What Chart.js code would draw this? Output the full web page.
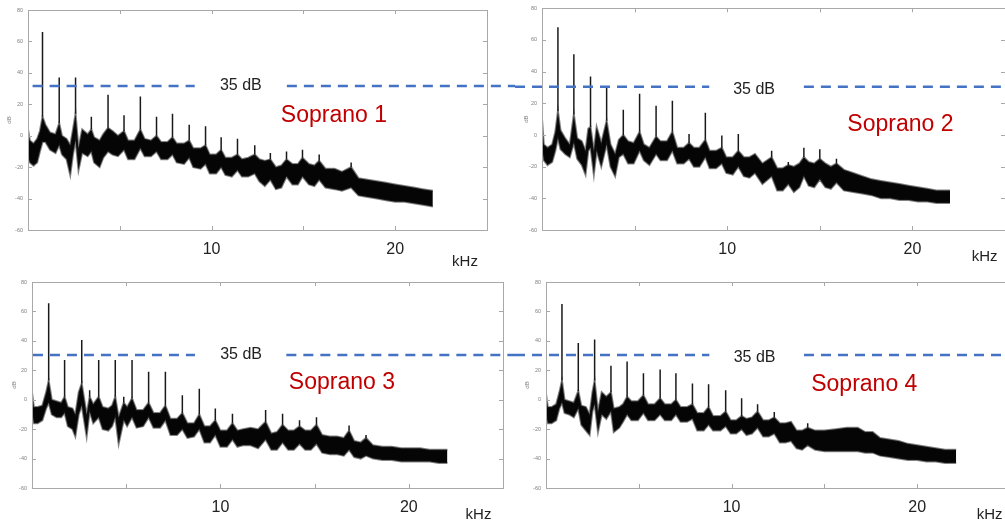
<!DOCTYPE html>
<html>
<head>
<meta charset="utf-8">
<script src="https://cdn.jsdelivr.net/npm/chart.js@4.4.1/dist/chart.umd.min.js"></script>
<style>
  html, body { margin: 0; padding: 0; background: #fff; overflow: hidden; }
  #page { position: relative; width: 1005px; height: 525px; overflow: hidden; }
  canvas { position: absolute; }
</style>
</head>
<body>
<div id="page"></div>
<script>
// --- Soprano 1: band envelope (top/bottom dB) and harmonic peaks
const s1Khz = [0, 0.1, 0.3, 0.5, 0.65, 0.79, 0.95, 1.2, 1.5, 1.7,
  1.85, 2.1, 2.3, 2.45, 2.59, 2.75, 2.95, 3.25, 3.45, 3.6,
  3.9, 4.1, 4.36, 4.6, 4.9, 5.23, 5.45, 5.8, 6.12, 6.35,
  6.7, 7.0, 7.25, 7.6, 7.87, 8.1, 8.5, 8.78, 9.0, 9.4,
  9.67, 9.9, 10.25, 10.52, 10.75, 11.1, 11.41, 11.65, 12.0, 12.35,
  12.6, 12.9, 13.2, 13.5, 13.8, 14.08, 14.4, 14.7, 14.95, 15.3,
  15.6, 15.86, 16.2, 16.7, 17.1, 17.6, 18.0, 18.5, 19.0, 19.5,
  20.0, 20.5, 21.0, 21.5, 22.05];
const s1Top = [4, -3, -5, -2, 3, 12, 7, 2, 1, 8,
  0, -2, -6, 4, 14, -8, 4, 1, 4, -1,
  -3, 1, 5, 3, 0, 3, -3, -3, 4, -2,
  -3, 0, -4, -4, -1, -5, -5, -3, -8, -8,
  -6, -12, -12, -9, -14, -14, -12, -15, -14, -12,
  -15, -16, -15, -20, -19, -15, -18, -18, -14, -18,
  -19, -16, -21, -21, -23, -20, -27, -28, -29, -30,
  -31, -32, -33, -34, -35];
const s1Bottom = [-13, -17, -19, -17, -10, -4, -4, -9, -11, -6,
  -12, -15, -25, -12, -3, -22, -11, -13, -10, -17,
  -20, -14, -10, -12, -13, -9, -15, -15, -8, -13,
  -13, -10, -15, -15, -12, -17, -18, -14, -20, -21,
  -18, -24, -24, -20, -25, -26, -22, -26, -26, -24,
  -29, -32, -28, -34, -33, -26, -31, -31, -26, -31,
  -32, -28, -33, -34, -35, -33, -38, -39, -40, -41,
  -42, -42, -43, -44, -45];
const s1PeakKhz = [0.79, 1.7, 2.59, 3.45, 4.36, 5.23, 6.12, 7.0, 7.87, 8.78, 9.67, 10.52, 11.41, 12.35, 13.2, 14.08, 14.95, 15.86, 17.6];
const s1PeakDb = [66, 37, 37, 12, 26, 13, 25, 12, 14, 7, 6, -1, -2, -6, -11, -10, -9, -12, -17];

// --- Soprano 2
const s2Khz = [0, 0.1, 0.3, 0.55, 0.72, 0.86, 1.0, 1.25, 1.5, 1.72,
  1.9, 2.15, 2.35, 2.5, 2.62, 2.8, 2.95, 3.2, 3.49, 3.7,
  3.95, 4.15, 4.39, 4.65, 4.95, 5.27, 5.5, 5.8, 6.16, 6.4,
  6.75, 7.04, 7.3, 7.65, 7.94, 8.2, 8.5, 8.82, 9.05, 9.4,
  9.71, 9.95, 10.3, 10.6, 10.9, 11.2, 11.5, 11.9, 12.4, 12.7,
  13.0, 13.3, 13.6, 13.9, 14.14, 14.4, 14.7, 15.0, 15.3, 15.6,
  15.9, 16.3, 16.8, 17.3, 17.8, 18.3, 18.8, 19.3, 19.8, 20.3,
  20.8, 21.3, 22.03];
const s2Top = [10, -6, -8, -6, 2, 15, 3, -2, -6, 13,
  -2, -4, -10, 4, 5, -10, 5, -5, 9, -6,
  -12, -3, 0, -4, -5, 2, -6, -8, -1, -4,
  -4, 2, -8, -8, -5, -8, -8, -3, -10, -10,
  -8, -14, -14, -10, -14, -14, -12, -18, -14, -21,
  -21, -19, -20, -18, -14, -17, -18, -15, -18, -20,
  -18, -22, -24, -26, -28, -29, -30, -31, -32, -33,
  -34, -35, -35];
const s2Bottom = [-8, -16, -19, -17, -10, -2, -9, -12, -14, -5,
  -15, -19, -25, -10, -8, -25, -10, -20, -6, -20,
  -26, -14, -12, -18, -18, -10, -16, -19, -12, -16,
  -16, -10, -18, -18, -15, -20, -20, -14, -21, -21,
  -18, -24, -25, -20, -26, -27, -24, -31, -26, -35,
  -35, -31, -36, -33, -26, -32, -33, -28, -33, -34,
  -30, -35, -36, -37, -38, -40, -40, -41, -41, -42,
  -42, -43, -43];
const s2PeakKhz = [0.86, 1.72, 2.62, 3.49, 4.39, 5.27, 6.16, 7.04, 7.94, 8.82, 9.71, 10.6, 12.4, 13.3, 14.14, 15.0, 15.9];
const s2PeakDb = [68, 51, 37, 31, 16, 26, 18.5, 21.6, 0.6, 14, -0.4, 0.6, -10, -17, -8, -9, -15];

// --- Soprano 3
const s3Khz = [0, 0.1, 0.3, 0.55, 0.75, 0.885, 1.05, 1.3, 1.55, 1.73,
  1.9, 2.15, 2.3, 2.48, 2.64, 2.9, 3.06, 3.25, 3.54, 3.75,
  4.05, 4.25, 4.42, 4.6, 4.87, 5.05, 5.31, 5.55, 5.9, 6.19,
  6.45, 6.8, 7.08, 7.35, 7.7, 7.98, 8.25, 8.6, 8.88, 9.15,
  9.45, 9.73, 10.0, 10.35, 10.64, 10.9, 11.2, 11.6, 12.0, 12.4,
  12.7, 13.0, 13.3, 13.6, 13.9, 14.2, 14.5, 14.8, 15.1,
  15.4, 15.8, 16.2, 16.55, 16.83, 17.1, 17.45, 17.73, 18.1, 18.6,
  19.1, 19.6, 20.1, 20.6, 21.1, 21.6, 22.05];
const s3Top = [5, -5, -5, -4, 5, 13, 0, -1, -2, 2,
  -5, -6, -10, 5, 11, -10, 2, -3, 2, -5,
  -6, -4, 2, -12, -2, -5, 1, -7, -7, -2,
  -9, -9, -4, -13, -13, -9, -16, -16, -10, -18,
  -18, -14, -21, -21, -16, -21, -20, -19, -20, -15,
  -23, -22, -17, -21, -21, -18, -21, -21, -17,
  -24, -25, -25, -26, -21, -28, -29, -26, -31, -32,
  -32, -33, -33, -33, -34, -34, -34];
const s3Bottom = [-8, -16, -16, -14, -6, -2, -10, -12, -12, -9,
  -18, -20, -25, -10, -4, -25, -8, -16, -12, -20,
  -21, -18, -12, -30, -14, -18, -12, -19, -18, -12,
  -19, -19, -14, -24, -24, -20, -26, -25, -20, -29,
  -29, -24, -32, -32, -27, -32, -31, -31, -33, -27,
  -34, -34, -29, -34, -34, -30, -34, -34, -30,
  -36, -37, -37, -38, -34, -39, -40, -38, -40, -41,
  -41, -42, -42, -42, -42, -43, -43];
const s3PeakKhz = [0.885, 1.73, 2.64, 3.06, 3.54, 4.42, 4.87, 5.31, 6.19, 7.08, 7.98, 8.88, 9.73, 10.64, 12.4, 13.3, 14.2, 15.1, 16.83, 17.73];
const s3PeakDb = [65.5, 27, 40.5, 6.4, 27, 27, 2, 27, 19, 19, 3, 7.5, -6, -9.5, -7, -9.5, -14, -12, -17.5, -24];

// --- Soprano 4
const s4Khz = [0, 0.1, 0.3, 0.55, 0.72, 0.86, 1.0, 1.25, 1.5, 1.74,
  1.9, 2.15, 2.35, 2.5, 2.62, 2.8, 3.0, 3.25, 3.5, 3.65,
  3.95, 4.15, 4.37, 4.6, 4.95, 5.25, 5.5, 5.85, 6.15, 6.4,
  6.75, 7.0, 7.25, 7.6, 7.89, 8.15, 8.5, 8.76, 9.0, 9.4,
  9.68, 9.95, 10.25, 10.54, 10.8, 11.1, 11.4, 11.7, 12.0, 12.3,
  12.6, 12.9, 13.2, 13.5, 13.8, 14.1, 14.5, 15.0, 15.6, 16.2,
  16.8, 17.2, 17.6, 18.0, 18.5, 19.0, 19.5, 20.0, 20.5, 21.0,
  21.5, 22.1];
const s4Top = [4, -5, -5, -3, 5, 13, 0, -1, -2, 6,
  -4, -5, -10, 5, 13, -8, 5, 2, 5, -6,
  -5, -3, 2, -1, -1, 3, -3, -3, 1, -3,
  -3, 0, -5, -5, -3, -9, -9, -5, -11, -11,
  -8, -14, -14, -11, -13, -12, -8, -14, -14, -12,
  -16, -16, -15, -21, -21, -19, -21, -21, -20, -19,
  -19, -22, -22, -26, -27, -28, -30, -31, -32, -33,
  -34, -34];
const s4Bottom = [-10, -16, -16, -14, -6, -2, -9, -10, -12, -6,
  -17, -21, -24, -8, -3, -22, -10, -13, -8, -22,
  -19, -15, -10, -14, -14, -9, -14, -14, -10, -14,
  -14, -10, -15, -15, -13, -21, -21, -17, -21, -21,
  -18, -23, -23, -20, -24, -23, -19, -25, -25, -23,
  -29, -29, -28, -33, -34, -31, -34, -35, -35, -35,
  -35, -36, -36, -38, -39, -40, -41, -41, -42, -42,
  -43, -43];
const s4PeakKhz = [0.86, 1.74, 2.62, 3.5, 4.37, 5.25, 6.15, 7.0, 7.89, 8.76, 9.68, 10.54, 11.4, 12.3, 14.1];
const s4PeakDb = [65, 38.6, 41, 23, 26, 18, 20.5, 18, 11, 10.5, 6.4, 1, -3, -8.4, -16];

const dbTicks = [-60, -40, -20, 0, 20, 40, 60, 80];
const khzTicks = [5, 10, 15, 20];
const khzLabels = [10, 20];
const thresholdText = '35 dB';

const panels = [
  { name: 'Soprano 1', khz: s1Khz, top: s1Top, bottom: s1Bottom, peakKhz: s1PeakKhz, peakDb: s1PeakDb, lineDb: 31.6 },
  { name: 'Soprano 2', khz: s2Khz, top: s2Top, bottom: s2Bottom, peakKhz: s2PeakKhz, peakDb: s2PeakDb, lineDb: 30.4 },
  { name: 'Soprano 3', khz: s3Khz, top: s3Top, bottom: s3Bottom, peakKhz: s3PeakKhz, peakDb: s3PeakDb, lineDb: 30.4 },
  { name: 'Soprano 4', khz: s4Khz, top: s4Top, bottom: s4Bottom, peakKhz: s4PeakKhz, peakDb: s4PeakDb, lineDb: 30.4 }
];

// canvas placement and annotation spots (kHz / dB units where possible)
const layout = [
  { left: 0, top: 0, width: 515, height: 270, axisW: 28, padTop: 10, padRight: 28, axisH: 40, titlePad: 6,
    nameAt: [16.66, 12.5], dbAt: [11.59, 31.6], unitAt: [23.8, 32], dashes: [[0.25, 9.08], [14.1, 99]] },
  { left: 515, top: 0, width: 500, height: 270, axisW: 27, padTop: 7, padRight: 8, axisH: 40, titlePad: 8,
    nameAt: [19.35, 6.6], dbAt: [11.45, 28.5], unitAt: [23.9, 27], dashes: [[-99, 9.03], [14.14, 99]] },
  { left: 0, top: 270, width: 515, height: 255, axisW: 32, padTop: 12, padRight: 12, axisH: 37, titlePad: 11,
    nameAt: [16.45, 11.3], dbAt: [11.1, 30.4], unitAt: [23.7, 27], dashes: [[0.05, 8.65], [13.5, 99]] },
  { left: 515, top: 270, width: 505, height: 255, axisW: 31, padTop: 12, padRight: 9, axisH: 37, titlePad: 9,
    nameAt: [17.15, 10], dbAt: [11.24, 28.3], unitAt: [23.9, 27], dashes: [[-99, 8.8], [13.9, 99]] }
];

const FONT = "'Liberation Sans', Arial, sans-serif";

function bandPoints(khz, values) {
  return khz.map((f, i) => ({ x: f, y: values[i] }));
}

function spikePoints(panel) {
  const pts = [];
  panel.peakKhz.forEach((f, i) => {
    const base = panel.top[panel.khz.indexOf(f)];
    pts.push({ x: f, y: base }, { x: f, y: panel.peakDb[i] }, { x: f, y: null });
  });
  return pts;
}

const decorPlugin = {
  id: 'decor',
  afterDraw(chart) {
    const { ctx, chartArea: a, scales: { x, y } } = chart;
    const panel = chart.options.plugins.decor.panel;
    const spot = chart.options.plugins.decor.spot;
    ctx.save();

    // axes box
    ctx.strokeStyle = '#a8a8a8';
    ctx.lineWidth = 1;
    ctx.strokeRect(Math.round(a.left) + 0.5, Math.round(a.top) + 0.5, Math.round(a.width), Math.round(a.height));

    // inward tick marks
    ctx.beginPath();
    khzTicks.forEach((v) => {
      const px = Math.round(x.getPixelForValue(v)) + 0.5;
      ctx.moveTo(px, a.bottom); ctx.lineTo(px, a.bottom - 4);
      ctx.moveTo(px, a.top); ctx.lineTo(px, a.top + 4);
    });
    dbTicks.slice(1, -1).forEach((v) => {
      const py = Math.round(y.getPixelForValue(v)) + 0.5;
      ctx.moveTo(a.left, py); ctx.lineTo(a.left + 4, py);
      ctx.moveTo(a.right, py); ctx.lineTo(a.right - 4, py);
    });
    ctx.stroke();

    // dashed threshold line
    const ly = y.getPixelForValue(panel.lineDb);
    ctx.strokeStyle = '#4472C4';
    ctx.lineWidth = 2.5;
    ctx.setLineDash([10, 7]);
    spot.dashes.forEach(([from, to]) => {
      const x0 = Math.max(0, x.getPixelForValue(from));
      const x1 = Math.min(chart.width, x.getPixelForValue(to));
      ctx.beginPath();
      ctx.moveTo(x0, ly);
      ctx.lineTo(x1, ly);
      ctx.stroke();
    });
    ctx.setLineDash([]);

    ctx.textAlign = 'center';
    ctx.textBaseline = 'middle';
    ctx.fillStyle = '#222';
    ctx.font = '16px ' + FONT;
    ctx.fillText(thresholdText, x.getPixelForValue(spot.dbAt[0]), y.getPixelForValue(spot.dbAt[1]));

    ctx.font = '15px ' + FONT;
    ctx.fillText('kHz', x.getPixelForValue(spot.unitAt[0]), a.bottom + spot.unitAt[1]);

    ctx.fillStyle = '#C00000';
    ctx.font = '23px ' + FONT;
    ctx.fillText(panel.name, x.getPixelForValue(spot.nameAt[0]), y.getPixelForValue(spot.nameAt[1]));
    ctx.restore();
  }
};

function drawPanel(panel, spot) {
  const canvas = document.createElement('canvas');
  canvas.width = spot.width;
  canvas.height = spot.height;
  canvas.style.left = spot.left + 'px';
  canvas.style.top = spot.top + 'px';
  document.getElementById('page').appendChild(canvas);

  return new Chart(canvas.getContext('2d'), {
    type: 'line',
    data: {
      datasets: [
        {
          data: bandPoints(panel.khz, panel.top),
          borderColor: 'rgba(30,30,30,0.55)',
          borderWidth: 2,
          pointRadius: 0,
          fill: false,
        },
        {
          data: bandPoints(panel.khz, panel.bottom),
          borderColor: 'rgba(30,30,30,0.55)',
          borderWidth: 2,
          backgroundColor: '#050505',
          pointRadius: 0,
          fill: '-1',
        },
        {
          data: spikePoints(panel),
          borderColor: 'rgba(0,0,0,0.9)',
          borderWidth: 1.5,
          pointRadius: 0,
          spanGaps: false,
          fill: false,
        },
      ],
    },
    options: {
      responsive: false,
      animation: false,
      devicePixelRatio: 1,
      layout: { padding: { left: 0, top: spot.padTop, right: spot.padRight, bottom: 0 } },
      plugins: {
        legend: { display: false },
        tooltip: { enabled: false },
        decor: { panel: panel, spot: spot },
      },
      scales: {
        x: {
          type: 'linear',
          min: 0,
          max: 25,
          grid: { display: false, drawTicks: false },
          border: { display: false },
          ticks: {
            stepSize: 5,
            autoSkip: false,
            maxRotation: 0,
            padding: 10,
            color: '#222',
            font: { family: FONT, size: 16 },
            callback: (v) => (khzLabels.includes(v) ? String(v) : ''),
          },
          afterFit: (scale) => { scale.height = spot.axisH; },
        },
        y: {
          min: -60,
          max: 80,
          grid: { display: false, drawTicks: false },
          border: { display: false },
          ticks: {
            stepSize: 20,
            padding: 5,
            color: '#808080',
            font: { family: FONT, size: 5.5 },
          },
          title: {
            display: true,
            text: 'dB',
            color: '#808080',
            font: { family: FONT, size: 6 },
            padding: { top: spot.titlePad, bottom: 0 },
          },
          afterFit: (scale) => { scale.width = spot.axisW; },
        },
      },
    },
    plugins: [decorPlugin],
  });
}

panels.forEach((panel, i) => drawPanel(panel, layout[i]));
</script>
</body>
</html>
